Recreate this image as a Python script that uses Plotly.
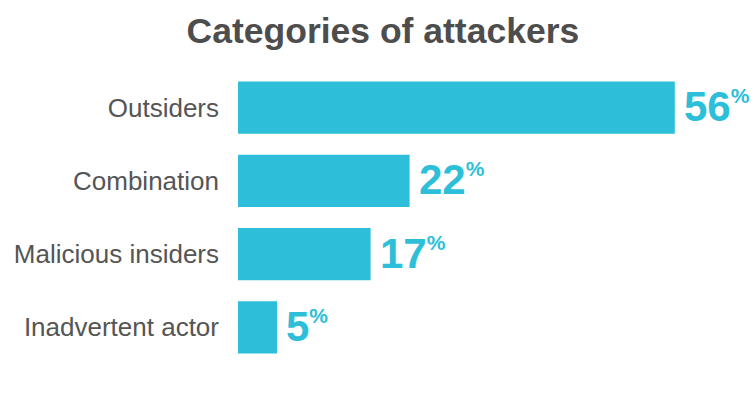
import plotly.graph_objects as go

categories = ["Outsiders", "Combination", "Malicious insiders", "Inadvertent actor"]
values = [56, 22, 17, 5]

BAR = "#2DBFDA"
FONT = "Liberation Sans, Arial, Helvetica, sans-serif"

fig = go.Figure(go.Bar(
    x=values, y=categories, orientation="h",
    marker=dict(color=BAR, line=dict(width=0)),
    hoverinfo="skip",
))

for c, v in zip(categories, values):
    fig.add_annotation(
        x=v, y=c, xref="x", yref="y",
        text=f"<b>{v}<sup><span style='font-size:21px'>%</span></sup></b>",
        showarrow=False, xanchor="left", yanchor="middle", xshift=7, yshift=1,
        font=dict(family=FONT, size=42, color=BAR),
    )

fig.update_layout(
    width=756, height=407,
    margin=dict(l=238, r=50, t=71, b=43),
    paper_bgcolor="white", plot_bgcolor="white",
    bargap=0.29,
    showlegend=False,
    title=dict(text="<b>Categories of attackers</b>", x=0.5065, xanchor="center",
               y=0.925, yanchor="middle",
               font=dict(family=FONT, size=35.5, color="#4d4d4d")),
    xaxis=dict(range=[0, 60], visible=False, fixedrange=True),
    yaxis=dict(autorange="reversed", showgrid=False, zeroline=False, showline=False,
               ticks="", ticklabelstandoff=18,
               tickfont=dict(family=FONT, size=26, color="#555555"), fixedrange=True),
)

fig.write_html("out.html")
